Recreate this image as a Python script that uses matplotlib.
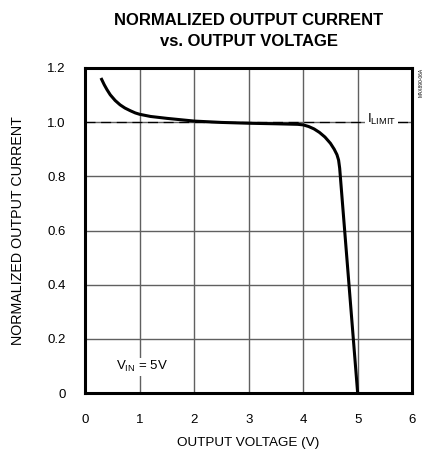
import numpy as np
import matplotlib
matplotlib.use("Agg")
import matplotlib.pyplot as plt

plt.rcParams["font.family"] = ["Liberation Sans", "DejaVu Sans"]

# curve
voltage = [0.29, 0.35, 0.40, 0.46, 0.55, 0.64, 0.73, 0.83, 0.92, 1.0,
           1.2, 1.5, 2.0, 2.5, 3.0, 3.5, 3.9, 4.0, 4.1, 4.2, 4.3, 4.4,
           4.5, 4.57, 4.62, 4.65, 4.67, 5.0]
current = [1.163, 1.138, 1.12, 1.101, 1.080, 1.064, 1.052, 1.042, 1.034,
           1.029, 1.021, 1.014, 1.004, 0.999, 0.996, 0.994, 0.992, 0.990,
           0.984, 0.975, 0.962, 0.945, 0.922, 0.90, 0.88, 0.86, 0.83, 0.0]

x_ticks = [0, 1, 2, 3, 4, 5, 6]
y_ticks = [0, 0.2, 0.4, 0.6, 0.8, 1.0, 1.2]
y_ticklabels = ["0", "0.2", "0.4", "0.6", "0.8", "1.0", "1.2"]
i_limit = 1.0


def main():
    fig = plt.figure(figsize=(4.28, 4.53), dpi=100)
    ax = fig.add_axes([0.199, 0.132, 0.764, 0.718])

    ax.set_xlim(0, 6)
    ax.set_ylim(0, 1.2)
    ax.set_xticks(x_ticks)
    ax.set_yticks(y_ticks)
    ax.set_yticklabels(y_ticklabels)
    ax.tick_params(length=0, labelsize=9.5)
    ax.tick_params(axis="x", pad=15)
    ax.tick_params(axis="y", pad=14)
    ax.grid(True, color="#606060", lw=1)
    for s in ax.spines.values():
        s.set_linewidth(2.2)

    ax.axhline(i_limit, color="black", lw=0.9, dashes=(8, 4.5))
    ax.plot(voltage, current, color="black", lw=2.2, solid_capstyle="butt",
            solid_joinstyle="round")

    ax.text(5.17, i_limit + 0.01, r"I$_{\mathregular{LIMIT}}$", fontsize=9.5,
            ha="left", va="center",
            bbox=dict(facecolor="white", edgecolor="none", pad=1.5))
    ax.text(0.57, 0.098, r"V$_{\mathregular{IN}}$ = 5V", fontsize=9.5,
            ha="left", va="center",
            bbox=dict(facecolor="white", edgecolor="none", pad=1))

    ax.set_xlabel("OUTPUT VOLTAGE (V)", fontsize=9.7, labelpad=8)
    ax.set_ylabel("NORMALIZED OUTPUT CURRENT", fontsize=10.3, labelpad=16)
    ax.set_title("NORMALIZED OUTPUT CURRENT\nvs. OUTPUT VOLTAGE",
                 fontsize=12, fontweight="bold", pad=16, linespacing=1.45)

    fig.text(0.983, 0.85, "MAX890-06A", fontsize=3.5, rotation=90,
             ha="center", va="top")

    fig.savefig("out.png", dpi=100)


if __name__ == "__main__":
    main()
